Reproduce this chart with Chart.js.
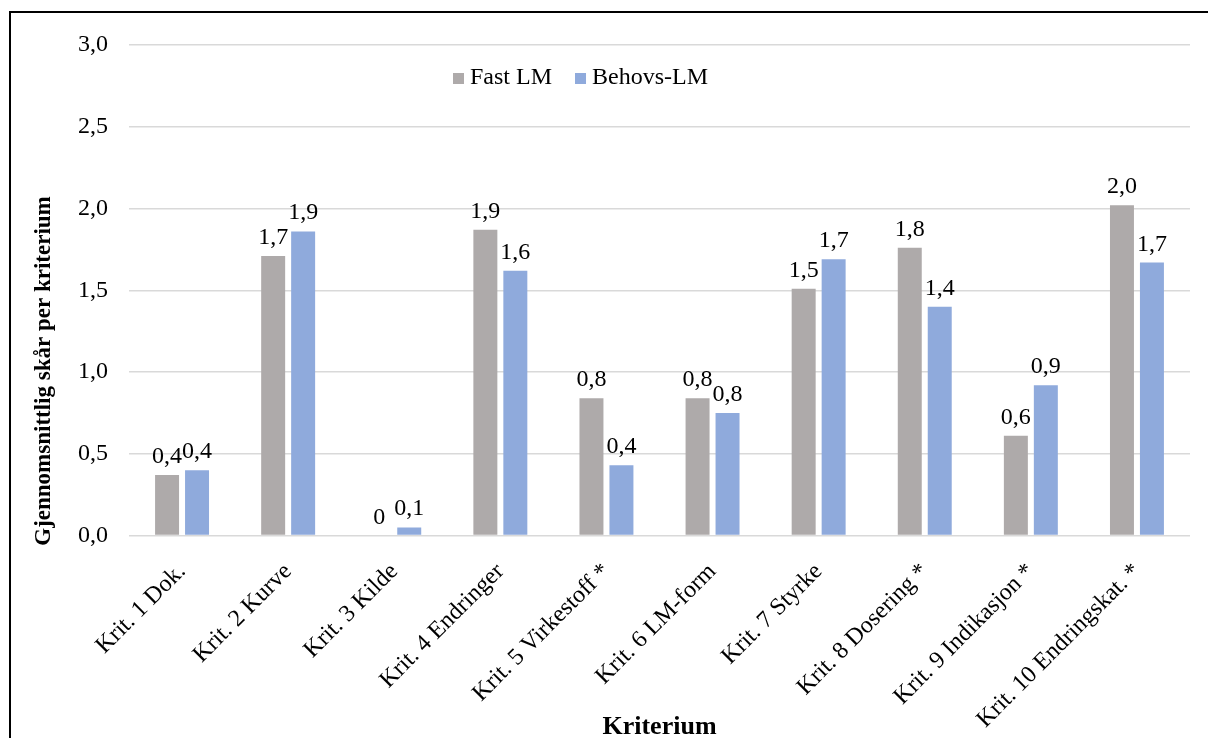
<!DOCTYPE html>
<html>
<head>
<meta charset="utf-8">
<script src="https://cdn.jsdelivr.net/npm/chart.js@4.4.1/dist/chart.umd.min.js"></script>
<style>
  html, body { margin: 0; padding: 0; background: #fff; overflow: hidden; }
  #frame { position: absolute; left: 9px; top: 11px; width: 1240px; height: 760px;
           border-left: 2px solid #000; border-top: 2px solid #000; }
  #wrap  { position: absolute; left: 0; top: 0; width: 1197px; height: 735px; }
</style>
</head>
<body>
<div id="frame"><div id="wrap"><canvas id="chart"></canvas></div></div>
<script>
(function () {
  const CATEGORIES = [
    'Krit. 1 Dok.', 'Krit. 2 Kurve', 'Krit. 3 Kilde', 'Krit. 4 Endringer',
    'Krit. 5 Virkestoff *', 'Krit. 6 LM-form', 'Krit. 7 Styrke',
    'Krit. 8 Dosering *', 'Krit. 9 Indikasjon *', 'Krit. 10 Endringskat. *',
  ];
  const FAST_LM   = [0.37, 1.71, 0,    1.87, 0.84, 0.84, 1.51, 1.76, 0.61, 2.02];
  const BEHOVS_LM = [0.40, 1.86, 0.05, 1.62, 0.43, 0.75, 1.69, 1.40, 0.92, 1.67];
  const SERIES_NAMES = ['Fast LM', 'Behovs-LM'];
  const Y_TITLE = 'Gjennomsnittlig skår per kriterium';
  const X_TITLE = 'Kriterium';

  const SERIF = '"Liberation Serif", "Times New Roman", serif';
  const GRAY  = '#AEAAAA';
  const BLUE  = '#8FAADC';
  const GRID  = '#D9D9D9';

  const fmtLabel = v => v === 0 ? '0' : v.toFixed(1).replace('.', ',');

  // value labels, axis titles and the in-plot legend (drawn on the canvas)
  const annotate = {
    id: 'annotate',
    afterDatasetsDraw(chart) {
      const { ctx, chartArea } = chart;
      ctx.save();
      ctx.fillStyle = '#000';

      ctx.font = `24px ${SERIF}`;
      ctx.textAlign = 'center';
      ctx.textBaseline = 'alphabetic';
      chart.data.datasets.forEach((ds, i) => {
        chart.getDatasetMeta(i).data.forEach((bar, j) => {
          ctx.fillText(fmtLabel(ds.data[j]), bar.x, bar.y - 12);
        });
      });

      // legend
      ctx.textAlign = 'left';
      let x = 442;
      const baseY = 71;
      chart.data.datasets.forEach(ds => {
        ctx.fillStyle = ds.backgroundColor;
        ctx.fillRect(x, baseY - 11, 11, 11);
        ctx.fillStyle = '#000';
        ctx.fillText(ds.label, x + 17, baseY);
        x += 17 + ctx.measureText(ds.label).width + 23;
      });

      // axis titles
      ctx.textAlign = 'center';
      ctx.textBaseline = 'middle';
      ctx.font = `bold 26px ${SERIF}`;
      ctx.fillText(X_TITLE, (chartArea.left + chartArea.right) / 2, 714);
      ctx.font = `bold 23px ${SERIF}`;
      ctx.translate(33, 358);
      ctx.rotate(-Math.PI / 2);
      ctx.fillText(Y_TITLE, 0, 0);
      ctx.restore();
    },
  };

  const ctx = document.getElementById('chart').getContext('2d');
  new Chart(ctx, {
    type: 'bar',
    data: {
      labels: CATEGORIES,
      datasets: [
        { label: SERIES_NAMES[0], data: FAST_LM,   backgroundColor: GRAY },
        { label: SERIES_NAMES[1], data: BEHOVS_LM, backgroundColor: BLUE },
      ],
    },
    options: {
      animation: false,
      responsive: true,
      maintainAspectRatio: false,
      categoryPercentage: 0.565,
      barPercentage: 0.8,
      layout: { padding: { left: 46, right: 18, top: 32, bottom: 0 } },
      scales: {
        x: {
          grid: { display: false },
          border: { display: false },
          ticks: {
            color: '#000',
            font: { family: SERIF, size: 24 },
            minRotation: 45, maxRotation: 45,
            padding: 14,
            autoSkip: false,
          },
        },
        y: {
          min: 0, max: 3,
          grid: { color: GRID, lineWidth: 1.5, drawTicks: false },
          border: { display: false },
          afterFit: s => { s.paddingTop = 0; },
          ticks: {
            stepSize: 0.5,
            color: '#000',
            font: { family: SERIF, size: 24 },
            padding: 21,
            callback: v => v.toFixed(1).replace('.', ','),
          },
        },
      },
      plugins: {
        legend: { display: false },
        tooltip: { enabled: false },
      },
    },
    plugins: [annotate],
  });
})();
</script>
</body>
</html>
